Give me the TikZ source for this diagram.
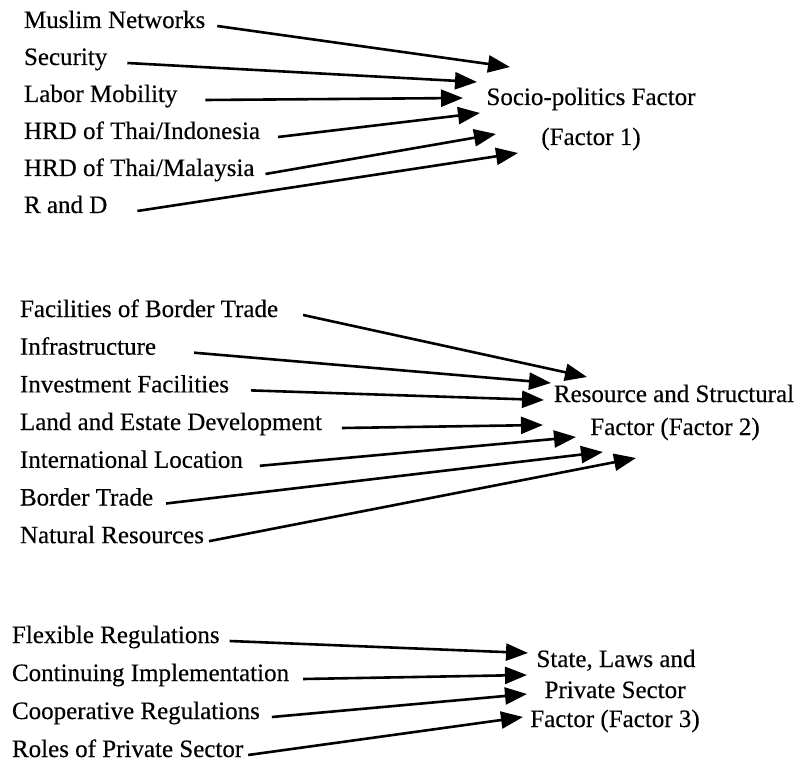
\documentclass[tikz,border=0pt]{standalone}
\usepackage{fontspec}
\setmainfont{Liberation Serif}[UprightFeatures={FakeBold=0.35}]
\usetikzlibrary{arrows.meta}
\begin{document}
\begin{tikzpicture}[x=1pt,y=-1pt,
  src/.style={anchor=base west,inner sep=0pt,outer sep=0pt,text height=0.6em,text depth=0.2em,font=\fontsize{25}{30}\selectfont},
  fac/.style={anchor=base,inner sep=0pt,font=\fontsize{25}{30}\selectfont},
  arr/.style={line width=2.6pt,-{Triangle[length=22pt,width=17pt]}}]
\useasboundingbox[fill=white] (0,0) rectangle (801,762);
% Section 1
\node[src] (a1) at (24,28)  {Muslim Networks};
\node[src] (a2) at (24,65)  {Security};
\node[src] (a3) at (24,102) {Labor Mobility};
\node[src] (a4) at (24,139) {HRD of Thai/Indonesia};
\node[src] (a5) at (24,176) {HRD of Thai/Malaysia};
\node[src] (a6) at (24,213) {R and D};
\node[fac] (f1a) at (591,105) {Socio-politics Factor};
\node[fac] (f1b) at (591,145) {(Factor 1)};
\coordinate (t1) at (510,67);
\coordinate (t2) at (477,82);
\coordinate (t3) at (463,98);
\coordinate (t4) at (480,113);
\coordinate (t5) at (496,134);
\coordinate (t6) at (518,153);
\draw[arr] ([xshift=12pt]a1.east) -- (t1);
\draw[arr] ([xshift=20pt]a2.east) -- (t2);
\draw[arr] ([xshift=28pt]a3.east) -- (t3);
\draw[arr] ([xshift=18pt]a4.east) -- (t4);
\draw[arr] ([xshift=11pt]a5.east) -- (t5);
\draw[arr] ([xshift=30pt]a6.east) -- (t6);
% Section 2
\node[src] (b1) at (20,317)   {Facilities of Border Trade};
\node[src] (b2) at (20,354.7) {Infrastructure};
\node[src] (b3) at (20,392.4) {Investment Facilities};
\node[src] (b4) at (20,430)   {Land and Estate Development};
\node[src] (b5) at (20,467.8) {International Location};
\node[src] (b6) at (20,505.5) {Border Trade};
\node[src] (b7) at (20,543.2) {Natural Resources};
\node[fac] (f2a) at (674,402) {Resource and Structural};
\node[fac] (f2b) at (675,435) {Factor (Factor 2)};
\coordinate (u1) at (587,377);
\coordinate (u2) at (551,383);
\coordinate (u3) at (544,400);
\coordinate (u4) at (543,425);
\coordinate (u5) at (576,437);
\coordinate (u6) at (603,452);
\coordinate (u7) at (636,458);
\draw[arr] ([xshift=25pt]b1.east) -- (u1);
\draw[arr] ([xshift=38pt]b2.east) -- (u2);
\draw[arr] ([xshift=22pt]b3.east) -- (u3);
\draw[arr] ([xshift=20pt]b4.east) -- (u4);
\draw[arr] ([xshift=17pt]b5.east) -- (u5);
\draw[arr] ([xshift=13pt]b6.east) -- (u6);
\draw[arr] ([xshift=5pt]b7.east) -- (u7);
% Section 3
\node[src] (c1) at (12,643) {Flexible Regulations};
\node[src] (c2) at (12,681) {Continuing Implementation};
\node[src] (c3) at (12,719) {Cooperative Regulations};
\node[src] (c4) at (12,757) {Roles of Private Sector};
\node[fac] (f3a) at (616,667) {State, Laws and};
\node[fac] (f3b) at (615,698) {Private Sector};
\node[fac] (f3c) at (615,727) {Factor (Factor 3)};
\coordinate (v1) at (528,653);
\coordinate (v2) at (527,675);
\coordinate (v3) at (527,694);
\coordinate (v4) at (523,717);
\draw[arr] ([xshift=10pt]c1.east) -- (v1);
\draw[arr] ([xshift=14pt]c2.east) -- (v2);
\draw[arr] ([xshift=12pt]c3.east) -- (v3);
\draw[arr] ([xshift=5pt]c4.east) -- (v4);
\end{tikzpicture}
\end{document}
